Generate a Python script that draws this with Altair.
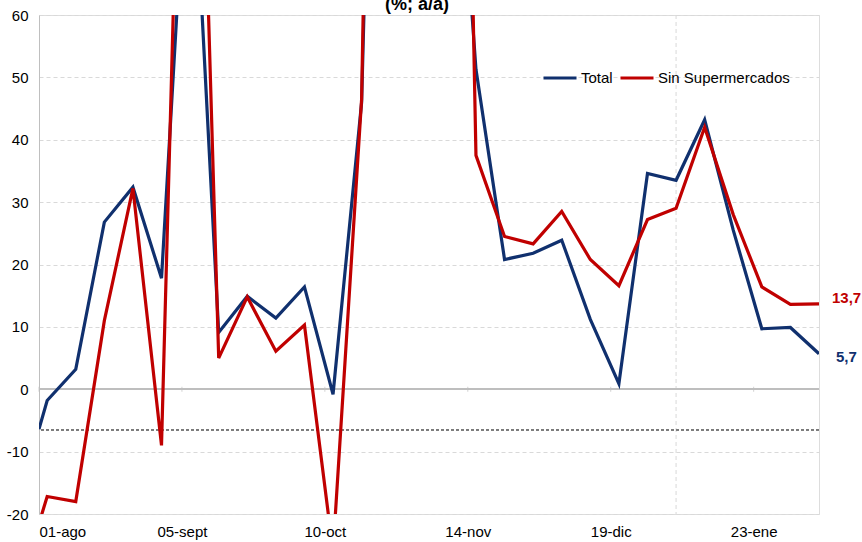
import altair as alt
import pandas as pd

# Weekly year-on-year growth (%), first reading on 01-ago then weekly points
point_dates = ["2022-08-01"] + [
    d.strftime("%Y-%m-%d") for d in pd.date_range("2022-08-03", periods=28, freq="7D")
]

total = [-6.4, -1.8, 3.2, 26.8, 32.4, 17.8, 97.0, 9.1, 14.9, 11.4, 16.4, -0.8, 46.0,
         220.0, 180.0, 115.0, 51.3, 20.8, 21.8, 23.9, 11.2, 0.9, 34.6, 33.5, 43.2,
         25.5, 9.7, 9.9, 5.7]
sin_super = [-21.5, -17.2, -18.0, 11.0, 32.2, -9.0, 160.0, 5.0, 14.8, 6.1, 10.3, -26.0,
             46.5, 300.0, 280.0, 270.0, 37.5, 24.5, 23.3, 28.5, 20.8, 16.6, 27.2, 29.0,
             42.0, 28.0, 16.4, 13.6, 13.7]

series_names = ["Total", "Sin Supermercados"]
series_colors = ["#10306e", "#c00000"]

tick_dates = ["2022-08-01", "2022-09-05", "2022-10-10", "2022-11-14", "2022-12-19", "2023-01-23"]
tick_labels = ["01-ago", "05-sept", "10-oct", "14-nov", "19-dic", "23-ene"]
y_ticks = [-20, -10, 0, 10, 20, 30, 40, 50, 60]
separator_date = "2023-01-04"
reference_level = -6.6
title_text = "(%; a/a)"

FONT = "Liberation Sans"


def to_ms(s):
    return int(pd.Timestamp(s, tz="UTC").value // 10**6)


rows = []
for name, values in zip(series_names, [total, sin_super]):
    for d, v in zip(point_dates, values):
        rows.append({"serie": name, "fecha": d, "valor": v})
df = pd.DataFrame(rows)

label_expr = " : ".join(
    f"utcFormat(datum.value, '%Y-%m-%d') == '{d}' ? '{lab}'" for d, lab in zip(tick_dates, tick_labels)
) + " : ''"

x_scale = alt.Scale(type="utc", domain=[to_ms(point_dates[0]), to_ms(point_dates[-1])])
y_scale = alt.Scale(domain=[-20, 60], nice=False, zero=False)

x_enc = alt.X(
    "fecha:T",
    scale=x_scale,
    axis=alt.Axis(
        values=[to_ms(d) for d in tick_dates],
        labelExpr=label_expr,
        title=None,
        domain=False,
        ticks=False,
        tickSize=0,
        grid=False,
        labelPadding=10,
        labelFontSize=15,
        labelColor="#000000",
        labelFont=FONT,
    ),
)
y_enc = alt.Y(
    "valor:Q",
    scale=y_scale,
    axis=alt.Axis(
        values=y_ticks,
        labelExpr="'' + datum.value",
        title=None,
        domain=True,
        domainColor="#bfbfbf",
        ticks=False,
        grid=True,
        gridColor="#d9d9d9",
        gridDash=[4, 3],
        labelPadding=11,
        labelFontSize=15,
        labelColor="#000000",
        labelFont=FONT,
    ),
)

base = alt.Chart(df)

lines = base.mark_line(strokeWidth=3.2, clip=True).encode(
    x=x_enc,
    y=y_enc,
    color=alt.Color(
        "serie:N",
        scale=alt.Scale(domain=series_names, range=series_colors),
        sort=series_names,
        legend=alt.Legend(
            orient="none",
            legendX=503,
            legendY=45,
            direction="horizontal",
            title=None,
            symbolType="stroke",
            symbolStrokeWidth=3,
            symbolSize=1089,
            labelFontSize=15,
            labelFont=FONT,
            labelColor="#000000",
            columnPadding=1,
            labelOffset=3,
        ),
    ),
    detail="serie:N",
)

zero_line = alt.Chart(df).mark_rule(color="#bfbfbf", strokeWidth=1).encode(y=alt.datum(0))

ticks_df = pd.DataFrame({"fecha": tick_dates})
zero_ticks = alt.Chart(ticks_df).mark_tick(
    orient="vertical", size=5, thickness=1, color="#bfbfbf"
).encode(x=alt.X("fecha:T"), y=alt.datum(0))

reference = alt.Chart(df).mark_rule(
    color="#7f7f7f", strokeWidth=1, strokeDash=[3, 2]
).encode(y=alt.datum(reference_level))

sep_df = pd.DataFrame({"fecha": [separator_date]})
separator = alt.Chart(sep_df).mark_rule(
    color="#d9d9d9", strokeWidth=1, strokeDash=[4, 3]
).encode(x=alt.X("fecha:T"))

# Heading text sitting at the very top edge, above the plot frame
heading = alt.Chart(pd.DataFrame({"t": [title_text]})).mark_text(
    align="center", baseline="alphabetic", fontSize=18, fontWeight="bold",
    font=FONT, color="#000000"
).encode(x=alt.value(378), y=alt.value(-5), text="t:N")


def fmt(v):
    return f"{v:.1f}".replace(".", ",")


end_total = pd.DataFrame({"fecha": [point_dates[-1]], "valor": [total[-1]], "txt": [fmt(total[-1])]})
end_sin = pd.DataFrame({"fecha": [point_dates[-1]], "valor": [sin_super[-1]], "txt": [fmt(sin_super[-1])]})

label_total = alt.Chart(end_total).mark_text(
    align="left", baseline="middle", dx=17, dy=3, fontSize=15, fontWeight="bold",
    font=FONT, color=series_colors[0]
).encode(x="fecha:T", y="valor:Q", text="txt:N")

label_sin = alt.Chart(end_sin).mark_text(
    align="left", baseline="middle", dx=13, dy=-6, fontSize=15, fontWeight="bold",
    font=FONT, color=series_colors[1]
).encode(x="fecha:T", y="valor:Q", text="txt:N")

chart = alt.layer(
    separator, reference, zero_line, zero_ticks, lines, label_total, label_sin, heading
).properties(
    width=780,
    height=499,
    autosize=alt.AutoSizeParams(type="none"),
    padding={"left": 39, "top": 15, "right": 43, "bottom": 28},
).configure_view(stroke=None).configure(background="#ffffff")

chart.save("out.html", embed_options={"renderer": "svg", "actions": False})
